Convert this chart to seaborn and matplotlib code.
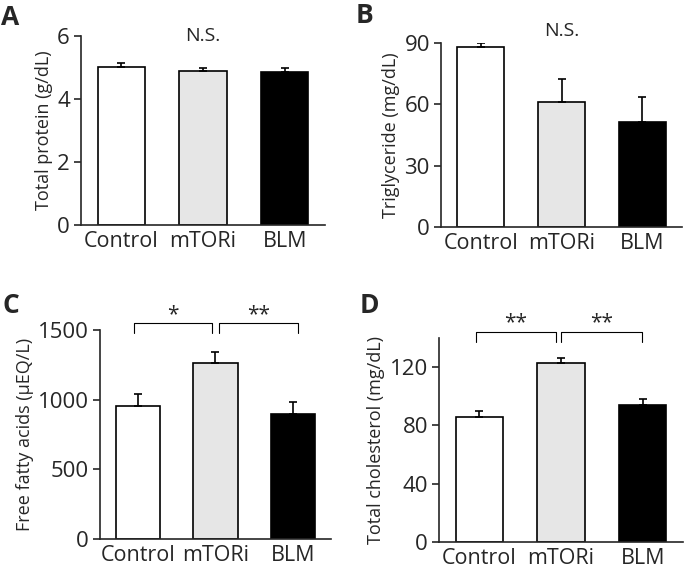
import matplotlib
matplotlib.use("Agg")
import matplotlib.pyplot as plt
import seaborn as sns
import pandas as pd

# data (mean and upper SE)
groups = ["Control", "mTORi", "BLM"]
bar_colors = ["#ffffff", "#e6e6e6", "#000000"]

protein = [5.03, 4.88, 4.87]
protein_err = [0.12, 0.09, 0.10]

trig = [88.2, 61.3, 51.5]
trig_err = [1.8, 11.0, 12.3]

ffa = [957, 1261, 900]
ffa_err = [82, 81, 84]

chol = [86.0, 122.8, 93.8]
chol_err = [3.6, 3.4, 4.1]

sns.set_style("ticks")
plt.rcParams["font.family"] = ["Open Sans", "DejaVu Sans"]
plt.rcParams["axes.linewidth"] = 1.2

W, H = 685, 571
fig = plt.figure(figsize=(W / 100, H / 100), dpi=100)


def px_axes(left, top, right, bottom):
    # axes box from pixel coords
    return fig.add_axes([left / W, 1 - bottom / H, (right - left) / W, (bottom - top) / H])


def panel(ax, vals, errs, ylabel, ylim, yticks):
    df = pd.DataFrame({"group": groups, "value": vals})
    sns.barplot(data=df, x="group", y="value", hue="group", palette=bar_colors,
                order=groups, hue_order=groups, width=0.575, errorbar=None,
                edgecolor="black", linewidth=1.2, legend=False, ax=ax)
    ax.errorbar(range(3), vals, yerr=[[0, 0, 0], errs], fmt="none",
                ecolor="black", elinewidth=1.2, capsize=3, capthick=1.2, zorder=5)
    ax.set_xlim(-0.49, 2.49)
    ax.set_ylim(*ylim)
    ax.set_yticks(yticks)
    ax.set_xlabel("")
    ax.set_ylabel(ylabel, fontsize=13, labelpad=3)
    ax.tick_params(axis="y", direction="out", length=5, width=1.2, labelsize=16, pad=3)
    ax.tick_params(axis="x", length=0, labelsize=15.5, pad=4)
    sns.despine(ax=ax)


def bracket(ax, x0, x1, y, drop, star, ys):
    ax.plot([x0, x0, x1, x1], [y - drop, y, y, y - drop], color="black", lw=0.8, clip_on=False)
    ax.text((x0 + x1) / 2, ys, star, ha="center", va="center", fontsize=15, clip_on=False)


axA = px_axes(81, 36, 325, 225)
panel(axA, protein, protein_err, "Total protein (g/dL)", (0, 6), [0, 2, 4, 6])
axA.text(1, 6.0, "N.S.", ha="center", va="center", fontsize=14)

axB = px_axes(441, 43, 682, 227)
panel(axB, trig, trig_err, "Triglyceride (mg/dL)", (0, 90), [0, 30, 60, 90])
axB.text(1, 96, "N.S.", ha="center", va="center", fontsize=14, clip_on=False)

axC = px_axes(100, 330, 331, 539)
panel(axC, ffa, ffa_err, "Free fatty acids (\u03bcEQ/L)", (0, 1500), [0, 500, 1000, 1500])
bracket(axC, -0.05, 0.96, 1548, 72, "*", 1610)
bracket(axC, 1.04, 2.06, 1548, 72, "**", 1610)

axD = px_axes(439, 338, 683, 542)
panel(axD, chol, chol_err, "Total cholesterol (mg/dL)", (0, 140), [0, 40, 80, 120])
bracket(axD, -0.04, 0.94, 144, 7, "**", 150.5)
bracket(axD, 1.0, 1.99, 144, 7, "**", 150.5)

# panel letters
for letter, x, y in [("A", 1, 4), ("B", 356, 2), ("C", 2, 292), ("D", 360, 292)]:
    fig.text(x / W, 1 - y / H, letter, fontsize=19, fontweight="bold", ha="left", va="top")

fig.savefig("out.png", dpi=100)
